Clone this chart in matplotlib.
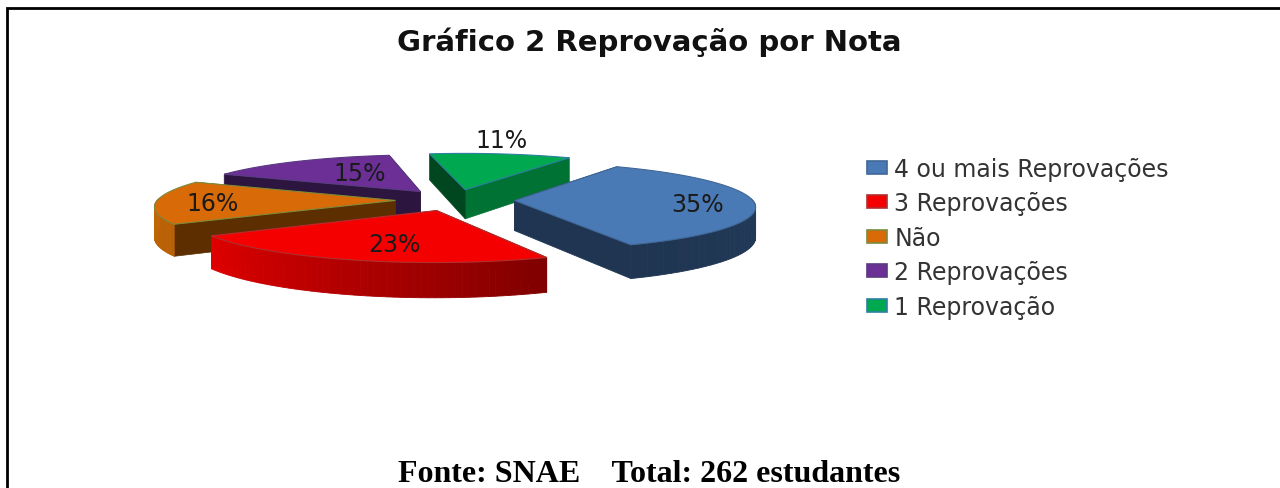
import numpy as np
import matplotlib
matplotlib.use("Agg")
import matplotlib.pyplot as plt
from matplotlib.patches import Polygon, Patch

title = "Gráfico 2 Reprovação por Nota"
footer = "Fonte: SNAE    Total: 262 estudantes"
categories = ["4 ou mais Reprovações", "3 Reprovações", "Não", "2 Reprovações", "1 Reprovação"]
values = [35, 23, 16, 15, 11]
top_colors = ["#4A7AB5", "#F50000", "#D96A08", "#6B2F96", "#00A84F"]
cut_colors = ["#1F3552", "#7A0000", "#5C2E00", "#2C1640", "#00471F"]
wall_colors = ["#1F3552", "#E00000", "#C96C08", "#2C1640", "#007233"]
edge_colors = ["#3F6797", "#B03030", "#7E8A3A", "#5A3A80", "#2E7FA0"]
wall_end_colors = ["#24405F", "#800000", "#B86005", "#2C1640", "#007233"]

start_angle = 30
explode = 0.25
cx, cy = 455, 201
R, H, depth, persp = 238, 43, 30, 0.12
label_pos = [(698, 205), (394, 245), (213, 204), (360, 174), (501, 141)]
draw_order = [4, 3, 2, 0, 1]


def project(u, v, drop=0.0):
    k = 1 / (1 + persp * v)
    return cx + R * u * k, cy - H * v * k + drop * k


def disc_points(a0, a1, ox, oy, drop=0.0, n=60):
    t = np.radians(np.linspace(a0, a1, n))
    xs, ys = project(ox + np.sin(t), oy + np.cos(t), drop)
    return np.column_stack([xs, ys])


def mix(c1, c2, f):
    a = np.array(matplotlib.colors.to_rgb(c1))
    b = np.array(matplotlib.colors.to_rgb(c2))
    return a + (b - a) * f


fig = plt.figure(figsize=(12.8, 4.89), dpi=100)
ax = fig.add_axes([0, 0, 1, 1])
ax.set_xlim(0, 1280)
ax.set_ylim(489, 0)
ax.axis("off")

# page frame: only the left side and the top are there
ax.plot([7, 7, 1280], [489, 9, 9], color="black", lw=2.0, solid_joinstyle="miter")

edges = np.cumsum([0] + values) / sum(values) * 360 + start_angle
for i in draw_order:
    a0, a1 = edges[i], edges[i + 1]
    mid = np.radians((a0 + a1) / 2)
    ox, oy = explode * np.sin(mid), explode * np.cos(mid)
    angles = np.linspace(a0, a1, 60)
    top = disc_points(a0, a1, ox, oy)
    bottom = disc_points(a0, a1, ox, oy, depth)
    apex = np.array(project(ox, oy))
    apex_b = np.array(project(ox, oy, depth))

    # cut faces first, then the outer wall, then the top
    face_a0 = cut_colors[i]
    face_a1 = wall_colors[i] if i == 4 else cut_colors[i]
    ax.add_patch(Polygon([apex, top[-1], bottom[-1], apex_b], closed=True, fc=face_a1, ec=face_a1, lw=0.5))
    ax.add_patch(Polygon([apex, top[0], bottom[0], apex_b], closed=True, fc=face_a0, ec=face_a0, lw=0.5))
    for j in range(len(top) - 1):
        if np.cos(np.radians(angles[j])) < 0.05:
            f = j / (len(top) - 2)
            col = mix(wall_end_colors[i], wall_colors[i], f)
            ax.add_patch(Polygon([top[j], top[j + 1], bottom[j + 1], bottom[j]], closed=True, fc=col, ec=col, lw=0.6))
    outline = np.vstack([[apex], top])
    ax.add_patch(Polygon(outline, closed=True, fc=top_colors[i], ec=edge_colors[i], lw=0.8))

for v, (x, y) in zip(values, label_pos):
    ax.text(x, y, f"{v}%", fontsize=17, color="#1A1A1A", ha="center", va="center")

ax.text(649, 42, title, fontsize=21, fontweight="bold", color="#111111", ha="center", va="center")
ax.text(649, 474, footer, fontsize=23, fontweight="bold", family="Liberation Serif", color="black", ha="center", va="center")

handles = [Patch(fc=c, ec=e, lw=1.2) for c, e in zip(top_colors, edge_colors)]
leg = ax.legend(handles, categories, loc="upper left", bbox_to_anchor=(867 / 1280, 1 - 158 / 489),
                frameon=False, fontsize=17, labelcolor="#333333", handlelength=0.85, handleheight=0.47,
                handletextpad=0.3, labelspacing=0.44, borderpad=0, borderaxespad=0)

fig.savefig("out.png", dpi=100)
